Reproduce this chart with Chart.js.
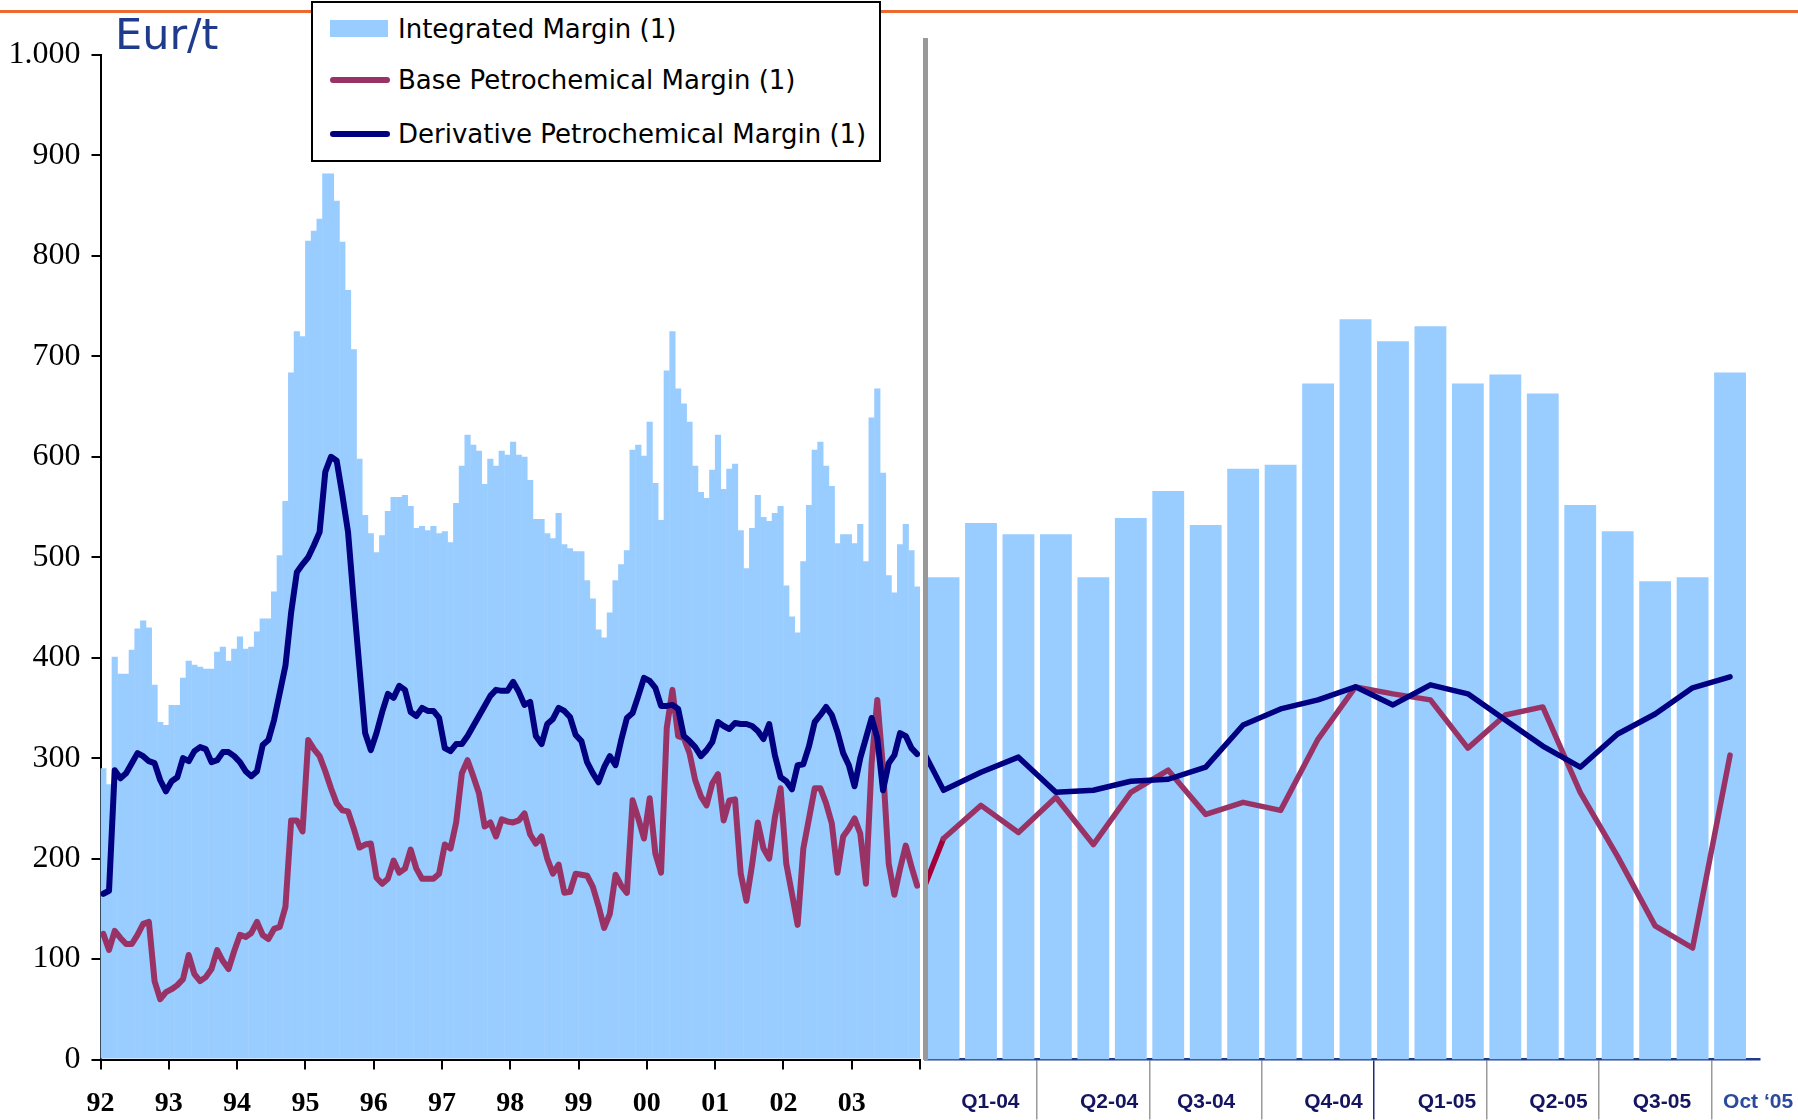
<!DOCTYPE html>
<html>
<head>
<meta charset="utf-8">
<script src="https://cdn.jsdelivr.net/npm/chart.js@4.4.0/dist/chart.umd.min.js"></script>
<style>
  body { margin: 0; background: #fff; }
  #page { position: relative; width: 1798px; height: 1120px; overflow: hidden; background: #fff; }
  #topLine { position: absolute; left: 0; top: 10px; width: 1798px; height: 3px; background: #EA6B2D; }
  #unit { position: absolute; left: 115px; top: 13px; font: 43px/1 "DejaVu Sans"; color: #1F3C8C; }
  #leftBox { position: absolute; left: 0; top: 0; }
  #rightBox { position: absolute; left: 920px; top: 0; }
  #divider { position: absolute; left: 923px; top: 38px; width: 4.5px; height: 1022px; background: #999; }
  #legend { position: absolute; left: 311px; top: 1px; width: 566px; height: 157px; border: 2px solid #000; background: #fff; }
  .sw { position: absolute; left: 17px; }
  .txt { position: absolute; left: 85px; font: 26px/1 "DejaVu Sans"; color: #000; white-space: nowrap; }
</style>
</head>
<body>
<div id="page">
  <div id="topLine"></div>
  <div id="leftBox"><canvas id="leftChart" width="937" height="1120"></canvas></div>
  <div id="rightBox"><canvas id="rightChart" width="878" height="1120"></canvas></div>
  <div id="divider"></div>
  <div id="unit">Eur/t</div>
  <div id="legend">
    <div class="sw" style="top:16.5px;width:58px;height:17px;background:#99CCFF"></div>
    <div class="txt" style="top:13px">Integrated Margin (1)</div>
    <div class="sw" style="top:74px;width:60px;height:6px;border-radius:3px;background:#993366"></div>
    <div class="txt" style="top:64px">Base Petrochemical Margin (1)</div>
    <div class="sw" style="top:127.5px;width:60px;height:6px;border-radius:3px;background:#000080"></div>
    <div class="txt" style="top:118px">Derivative Petrochemical Margin (1)</div>
  </div>
</div>
<script>
// monthly values Jan 92 .. Dec 03 (Eur/t)
const integratedMonthly = [
  290, 274, 401, 384, 384, 408, 429, 437, 430, 373, 336, 333,
  353, 353, 380, 397, 393, 391, 389, 389, 406, 411, 397, 409,
  421, 409, 411, 426, 439, 439, 466, 502, 556, 684, 725, 720,
  815, 825, 837, 882, 882, 855, 814, 766, 707, 598, 542, 524,
  505, 522, 546, 560, 560, 562, 551, 529, 531, 527, 531, 524,
  526, 515, 554, 591, 622, 612, 606, 573, 598, 591, 606, 602,
  615, 602, 600, 577, 538, 538, 524, 519, 544, 513, 509, 506,
  506, 477, 459, 428, 420, 445, 477, 493, 507, 607, 612, 601,
  635, 574, 537, 686, 725, 668, 653, 635, 591, 565, 559, 587,
  622, 568, 588, 593, 527, 489, 529, 562, 540, 536, 544, 551,
  472, 441, 425, 496, 552, 607, 615, 591, 571, 514, 523, 523,
  514, 533, 496, 639, 668, 584, 482, 465, 513, 533, 507, 471
];
const baseMonthly = [
  125, 109, 128, 121, 115, 115, 124, 135, 137, 78, 60, 67,
  70, 74, 80, 104, 85, 78, 82, 90, 109, 98, 90, 108,
  124, 122, 126, 137, 124, 120, 130, 132, 152, 238, 238, 227,
  318, 309, 302, 287, 270, 255, 248, 247, 230, 211, 214, 215,
  181, 175, 180, 198, 186, 190, 209, 190, 180, 180, 180, 185,
  214, 210, 236, 285, 298, 282, 265, 232, 236, 222, 239, 237,
  236, 238, 245, 224, 215, 222, 200, 185, 194, 166, 167, 185,
  184, 183, 172, 153, 131, 145, 184, 173, 166, 258, 240, 220,
  260, 205, 186, 330, 368, 322, 320, 305, 278, 262, 253, 275,
  284, 238, 258, 259, 185, 158, 194, 236, 210, 200, 241, 270,
  195, 165, 134, 210, 240, 270, 270, 255, 235, 186, 222, 230,
  240, 225, 175, 295, 358, 290, 195, 164, 190, 213, 192, 173
];
const derivativeMonthly = [
  165, 168, 288, 280, 285, 295, 305, 302, 297, 295, 278, 267,
  277, 281, 300, 297, 307, 311, 309, 296, 298, 306, 306, 302,
  296, 287, 282, 287, 313, 318, 338, 365, 392, 445, 485, 493,
  500, 512, 525, 585, 600, 596, 562, 525, 456, 390, 325, 308,
  325, 346, 364, 360, 372, 368, 346, 342, 350, 347, 347, 340,
  310, 307, 314, 314, 322, 332, 342, 352, 362, 368, 367, 367,
  376, 366, 353, 356, 322, 314, 334, 339, 350, 347, 341, 323,
  317, 296, 285, 276, 291, 302, 293, 318, 340, 345, 362, 380,
  377, 370, 352, 352, 353, 349, 322, 317, 311, 302, 308, 316,
  336, 332, 329, 335, 334, 334, 332, 327, 319, 334, 303, 281,
  277, 269, 293, 294, 312, 336, 343, 351, 343, 326, 305, 293,
  272, 300, 320, 340, 320, 268, 295, 303, 325, 322, 310, 304
];
const yearLabels = ['92', '93', '94', '95', '96', '97', '98', '99', '00', '01', '02', '03'];

// monthly values Jan 04 .. Oct 05
const integratedRecent = [480, 534, 523, 523, 480, 539, 566, 532, 588, 592, 673, 737, 715, 730, 673, 682, 663, 552, 526, 476, 480, 684];
const baseRecent = [220, 253, 226, 261, 214, 266, 288, 244, 256, 248, 319, 371, 364, 358, 310, 343, 351, 266, 202, 133, 111, 303];
const derivativeRecent = [268, 286, 301, 266, 268, 277, 279, 291, 333, 349, 358, 371, 353, 373, 364, 338, 312, 291, 324, 344, 370, 381];
const quarterLabels = ['Q1-04', 'Q2-04', 'Q3-04', 'Q4-04', 'Q1-05', 'Q2-05', 'Q3-05', 'Oct \u201805'];
const quarterLabelAt = [1.75, 4.92, 7.51, 10.91, 13.94, 16.92, 19.68, 22.25];
const quarterBreaks = [3, 6, 9, 12, 15, 18, 21];

Chart.defaults.font.family = 'Liberation Sans';

const BAR = '#99CCFF', NAVY = '#000080', PLUM = '#993366';
const TOP = 55, AXIS_H = 60.5;

function fmtThousands(v) {
  if (v >= 1000) return Math.floor(v / 1000) + '.' + String(v % 1000).padStart(3, '0');
  return String(v);
}

function monthPoints(arr) {
  return arr.map((v, i) => ({ x: i + 0.5, y: v }));
}

new Chart(document.getElementById('leftChart'), {
  type: 'bar',
  data: {
    datasets: [
      {
        type: 'line', label: 'Derivative Petrochemical Margin (1)',
        data: monthPoints(derivativeMonthly),
        borderColor: NAVY, borderWidth: 6, pointRadius: 0, tension: 0,
        borderJoinStyle: 'round', borderCapStyle: 'round', order: 0
      },
      {
        type: 'line', label: 'Base Petrochemical Margin (1)',
        data: monthPoints(baseMonthly),
        borderColor: PLUM, borderWidth: 6, pointRadius: 0, tension: 0,
        borderJoinStyle: 'round', borderCapStyle: 'round', order: 1
      },
      {
        type: 'bar', label: 'Integrated Margin (1)',
        data: monthPoints(integratedMonthly),
        backgroundColor: BAR, borderWidth: 0,
        barPercentage: 1.08, categoryPercentage: 1, order: 2
      }
    ]
  },
  options: {
    responsive: false, animation: false, events: [],
    layout: { padding: { left: 0, right: 0, top: TOP, bottom: 0 } },
    plugins: { legend: { display: false }, tooltip: { enabled: false } },
    scales: {
      x: {
        type: 'linear', min: 0, max: 144, offset: false,
        grid: { display: true, drawOnChartArea: false, offset: false, color: '#000', lineWidth: 2, tickLength: 10 },
        border: { color: '#000', width: 2 },
        ticks: {
          stepSize: 12, maxTicksLimit: 20, autoSkip: false, maxRotation: 0, padding: 17,
          color: '#000', font: { family: 'Liberation Serif', size: 28, weight: 'bold' },
          callback: (v) => yearLabels[v / 12] ?? ''
        },
        afterFit: (s) => { s.height = AXIS_H; }
      },
      y: {
        min: 0, max: 1000,
        grid: { display: true, drawOnChartArea: false, color: '#000', lineWidth: 2, tickLength: 9 },
        border: { color: '#000', width: 2 },
        ticks: {
          stepSize: 100, padding: 11, color: '#000',
          font: { family: 'Liberation Serif', size: 32 },
          callback: (v) => fmtThousands(v)
        },
        afterFit: (s) => { s.width = 100.5; }
      }
    }
  }
});

const rightTicks = quarterBreaks.concat(quarterLabelAt).sort((a, b) => a - b);

new Chart(document.getElementById('rightChart'), {
  type: 'bar',
  data: {
    datasets: [
      {
        type: 'line', label: 'Derivative Petrochemical Margin (1)',
        data: [{ x: 0, y: derivativeMonthly[143] }].concat(monthPoints(derivativeRecent)),
        borderColor: NAVY, borderWidth: 5.5, pointRadius: 0, tension: 0,
        borderJoinStyle: 'round', borderCapStyle: 'round', order: 0
      },
      {
        type: 'line', label: 'Base Petrochemical Margin (1)',
        data: [{ x: 0, y: baseMonthly[143] }].concat(monthPoints(baseRecent)),
        borderColor: PLUM, borderWidth: 5.5, pointRadius: 0, tension: 0,
        borderJoinStyle: 'round', borderCapStyle: 'round', order: 1,
        segment: { borderColor: (ctx) => ctx.p0DataIndex === 0 ? '#A3003A' : undefined }
      },
      {
        type: 'bar', label: 'Integrated Margin (1)',
        data: monthPoints(integratedRecent),
        backgroundColor: BAR, borderWidth: 0,
        barPercentage: 0.85, categoryPercentage: 1, order: 2
      }
    ]
  },
  options: {
    responsive: false, animation: false, events: [],
    layout: { padding: { left: 4.8, right: 38, top: TOP, bottom: 0 } },
    plugins: { legend: { display: false }, tooltip: { enabled: false } },
    scales: {
      x: {
        type: 'linear', min: 0, max: 22.3, offset: false,
        afterBuildTicks: (s) => { s.ticks = rightTicks.map((v) => ({ value: v })); },
        grid: {
          display: true, drawOnChartArea: false, offset: false, tickLength: 60, lineWidth: 1.5,
          color: (ctx) => {
            const v = ctx.tick ? ctx.tick.value : null;
            if (v === 12) return '#1F2A78';
            return quarterBreaks.includes(v) ? '#9A9A9A' : 'rgba(0,0,0,0)';
          }
        },
        border: { color: '#1F3C8C', width: 2.5 },
        ticks: {
          autoSkip: false, maxRotation: 0, padding: -30,
          font: { family: 'Liberation Sans', size: 21, weight: 'bold' },
          color: (ctx) => ctx.tick && ctx.tick.value === quarterLabelAt[7] ? '#2B4A9B' : '#14145F',
          callback: (v) => {
            const k = quarterLabelAt.indexOf(v);
            return k >= 0 ? quarterLabels[k] : '';
          }
        },
        afterFit: (s) => { s.height = AXIS_H; }
      },
      y: { display: false, min: 0, max: 1000 }
    }
  }
});
</script>
</body>
</html>
